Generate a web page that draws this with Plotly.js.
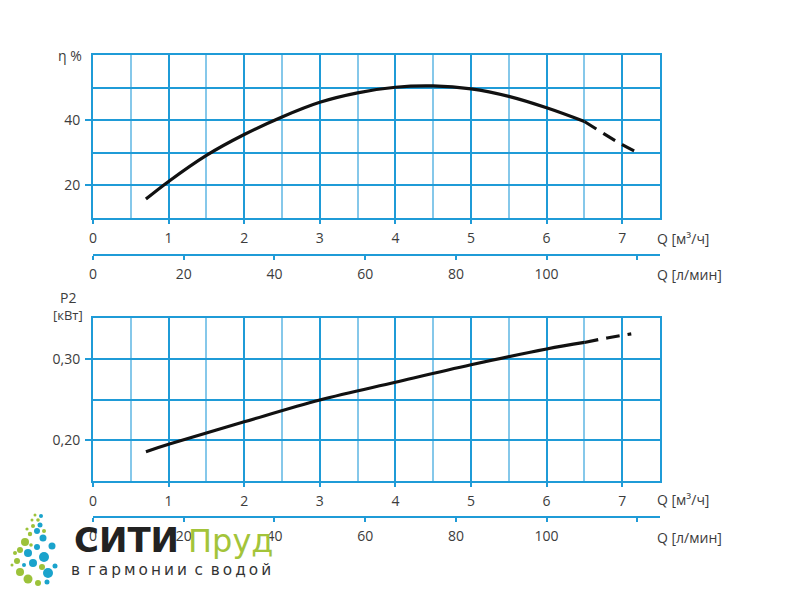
<!DOCTYPE html>
<html>
<head>
<meta charset="utf-8">
<script src="https://cdn.plot.ly/plotly-3.0.1.min.js"></script>
<style>html,body{margin:0;padding:0;background:#fff;}#chart{width:800px;height:600px;}</style>
</head>
<body>
<div id="chart"></div>
<script>
// ---- data ----
const qEff      = [0.7, 1.0, 1.5, 2.0, 2.5, 3.0, 3.5, 4.0, 4.5, 5.0, 5.5, 6.0, 6.5];
const etaVals   = [15.8, 21.2, 29.2, 35.6, 41.0, 45.5, 48.4, 50.1, 50.5, 49.6, 47.3, 43.8, 39.6];
const qEffExt   = [6.5, 7.0, 7.22];
const etaExt    = [39.6, 32.5, 29.9];

const qPow      = [0.7, 1.0, 2.0, 3.0, 4.0, 5.0, 6.0, 6.5];
const powVals   = [0.186, 0.195, 0.2226, 0.2494, 0.2712, 0.2926, 0.312, 0.320];
const qPowExt   = [6.5, 6.8, 7.12];
const powExt    = [0.320, 0.3255, 0.3305];

const qTicks     = [0, 1, 2, 3, 4, 5, 6, 7];
const qTickText  = ['0', '1', '2', '3', '4', '5', '6', '7'];
const lminTicks  = [0, 20, 40, 60, 80, 100, 120];
const lminText   = ['0', '20', '40', '60', '80', '100', ''];
const etaTicks   = [20, 40];
const etaText    = ['20', '40'];
const powTicks   = [0.20, 0.30];
const powText    = ['0,20', '0,30'];

// ---- styling ----
const BLUE = '#1f9bd7';
const LIGHT = '#86c8ea';
const TXT = '#3c3c3c';
const FONT = {family: 'Open Sans, sans-serif', size: 14, color: TXT};
const W = 800, H = 600;
const px = v => v / W;
const py = v => 1 - v / H;
const xDom = [px(93), px(660)];

function qAxis(anchor) {
  return {
    domain: xDom, range: [0, 7.5], anchor: anchor,
    tickvals: qTicks, ticktext: qTickText,
    ticks: 'outside', ticklen: 4, tickcolor: BLUE, tickwidth: 2,
    showgrid: true, gridcolor: BLUE, gridwidth: 2,
    minor: {tickvals: [0.5, 1.5, 2.5, 3.5, 4.5, 5.5, 6.5], showgrid: true, gridcolor: LIGHT, gridwidth: 2, ticks: ''},
    showline: true, linecolor: BLUE, linewidth: 2, mirror: true,
    zeroline: false, tickfont: FONT, ticklabelstandoff: 2, fixedrange: true
  };
}
function lminAxis(pos, overlay) {
  return {
    domain: xDom, range: [0, 125], anchor: 'free', position: pos, overlaying: overlay,
    tickvals: lminTicks, ticktext: lminText,
    ticks: 'outside', ticklen: 4, tickcolor: BLUE, tickwidth: 2,
    showgrid: false, zeroline: false,
    showline: true, linecolor: BLUE, linewidth: 2,
    tickfont: FONT, ticklabelstandoff: 2, fixedrange: true
  };
}
function yGrid(range, vals, text, gridVals) {
  return {
    range: range, tickvals: vals, ticktext: text,
    ticks: 'outside', ticklen: 6, tickcolor: BLUE, tickwidth: 2,
    showgrid: true, gridcolor: BLUE, gridwidth: 2,
    minor: {tickvals: gridVals, showgrid: true, gridcolor: BLUE, gridwidth: 2, ticks: ''},
    showline: true, linecolor: BLUE, linewidth: 2, mirror: true,
    zeroline: false, tickfont: FONT, ticklabelstandoff: 2, fixedrange: true
  };
}

const lineSolid = {color: '#111', width: 3.2, shape: 'spline', smoothing: 1};
const lineDash  = {color: '#111', width: 3.2, shape: 'spline', dash: '14px,8px'};

const traces = [
  {x: qEff, y: etaVals, xaxis: 'x', yaxis: 'y', mode: 'lines', line: lineSolid, hoverinfo: 'skip'},
  {x: qEffExt, y: etaExt, xaxis: 'x', yaxis: 'y', mode: 'lines', line: lineDash, hoverinfo: 'skip'},
  {x: qPow, y: powVals, xaxis: 'x2', yaxis: 'y2', mode: 'lines', line: lineSolid, hoverinfo: 'skip'},
  {x: qPowExt, y: powExt, xaxis: 'x2', yaxis: 'y2', mode: 'lines', line: lineDash, hoverinfo: 'skip'},
  {x: [lminTicks[0], lminTicks[lminTicks.length-1]], y: [null, null], xaxis: 'x3', yaxis: 'y', mode: 'lines', hoverinfo: 'skip'},
  {x: [lminTicks[0], lminTicks[lminTicks.length-1]], y: [null, null], xaxis: 'x4', yaxis: 'y2', mode: 'lines', hoverinfo: 'skip'}
];

// logo droplet circles (decoration)
const GREEN = '#9cc23a', DBLUE = '#1aa3cc';
const dots = [
  [35,515,1.5,GREEN],[41,516,2,DBLUE],[32,520,1.5,GREEN],[38,520,1.8,GREEN],[40,525,2.5,DBLUE],
  [33,526,2,GREEN],[27,529,1.6,GREEN],[37,531,3,DBLUE],[44,531,2,GREEN],[30,534,2.2,GREEN],
  [25,542,4,GREEN],[43,538,3.5,DBLUE],[37,547,3,DBLUE],[52,546,3.5,DBLUE],[20,550,3,GREEN],
  [28,553,4,DBLUE],[15,553,2,GREEN],[44,557,5,DBLUE],[17,561,3,GREEN],[33,563,4,DBLUE],
  [55,566,2.5,DBLUE],[42,567,3,GREEN],[20,572,4,GREEN],[48,573,5,DBLUE],[28,579,4.5,GREEN],
  [38,583,3,GREEN],[47,582,2.5,DBLUE],[12,565,1.5,GREEN],[24,565,2,DBLUE],[31,545,1.8,GREEN]
];
const shapes = dots.map(d => ({
  type: 'circle', xref: 'paper', yref: 'paper', layer: 'above',
  x0: px(d[0]-d[2]), x1: px(d[0]+d[2]), y0: py(d[1]+d[2]), y1: py(d[1]-d[2]),
  fillcolor: d[3], line: {width: 0}
}));

const TS = '\u2009';
const tagline = ['в', 'гармонии', 'с', 'водой'].map(w => w.split('').join(TS)).join('\u2002');

const logoBold = {family: 'DejaVu Sans, sans-serif', size: 34, color: '#222'};
const layout = {
  width: W, height: H,
  margin: {l: 0, r: 0, t: 0, b: 0},
  paper_bgcolor: '#fff', plot_bgcolor: '#fff',
  showlegend: false,
  font: FONT,
  xaxis: qAxis('y'),
  yaxis: Object.assign(yGrid([10, 60], etaTicks, etaText, [10, 30, 50, 60]), {domain: [py(218), py(55)], anchor: 'x'}),
  xaxis2: qAxis('y2'),
  yaxis2: Object.assign(yGrid([0.15, 0.35], powTicks, powText, [0.15, 0.25, 0.35]), {domain: [py(481), py(318)], anchor: 'x2'}),
  xaxis3: lminAxis(py(255), 'x'),
  xaxis4: lminAxis(py(517), 'x2'),
  shapes: shapes,
  annotations: [
    {text: 'η %', xref: 'paper', yref: 'paper', x: px(70), y: py(55), showarrow: false, font: FONT, xanchor: 'center', yanchor: 'middle'},
    {text: 'Q [м³/ч]', xref: 'paper', yref: 'paper', x: px(655), y: py(238), showarrow: false, font: FONT, xanchor: 'left', yanchor: 'middle'},
    {text: 'Q [л/мин]', xref: 'paper', yref: 'paper', x: px(655), y: py(275), showarrow: false, font: FONT, xanchor: 'left', yanchor: 'middle'},
    {text: 'P2', xref: 'paper', yref: 'paper', x: px(68), y: py(297), showarrow: false, font: FONT, xanchor: 'center', yanchor: 'middle'},
    {text: '[кВт]', xref: 'paper', yref: 'paper', x: px(68), y: py(315), showarrow: false, font: {family: FONT.family, size: 13, color: TXT}, xanchor: 'center', yanchor: 'middle'},
    {text: 'Q [м³/ч]', xref: 'paper', yref: 'paper', x: px(655), y: py(499), showarrow: false, font: FONT, xanchor: 'left', yanchor: 'middle'},
    {text: 'Q [л/мин]', xref: 'paper', yref: 'paper', x: px(655), y: py(537), showarrow: false, font: FONT, xanchor: 'left', yanchor: 'middle'},
    {text: '<b>СИТИ</b>', xref: 'paper', yref: 'paper', x: px(72), y: py(540), showarrow: false, xanchor: 'left', yanchor: 'middle', font: logoBold},
    {text: 'Пруд', xref: 'paper', yref: 'paper', x: px(186), y: py(541), showarrow: false, xanchor: 'left', yanchor: 'middle',
      font: {family: 'DejaVu Sans, sans-serif', size: 32, color: '#a3c43a'}},
    {text: tagline, xref: 'paper', yref: 'paper', x: px(69), y: py(570), showarrow: false, xanchor: 'left', yanchor: 'middle',
      font: {family: 'DejaVu Sans, sans-serif', size: 15.3, color: '#333'}}
  ]
};

Plotly.newPlot('chart', traces, layout, {staticPlot: true, displayModeBar: false});
</script>
</body>
</html>
